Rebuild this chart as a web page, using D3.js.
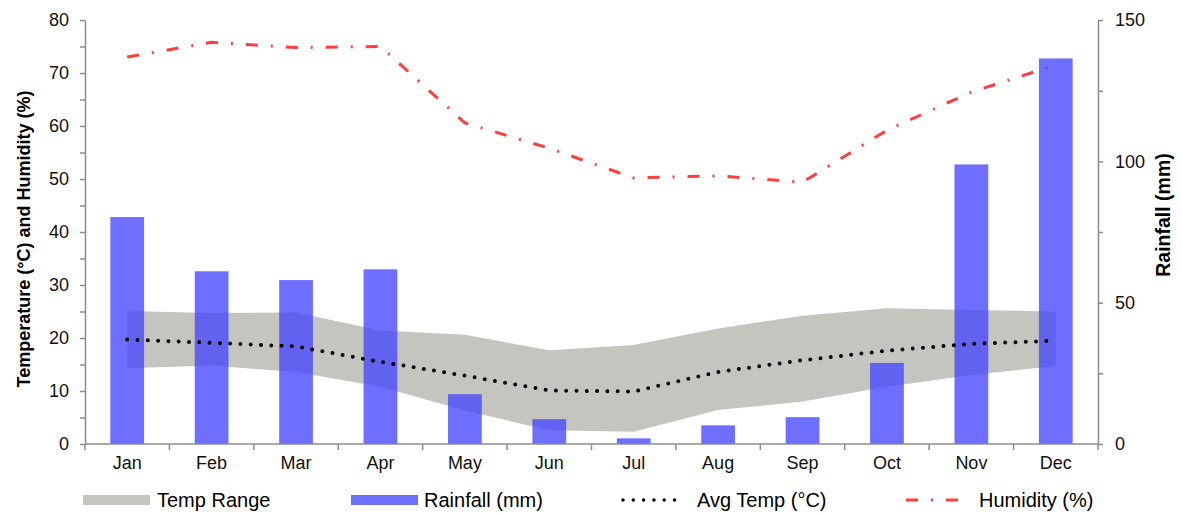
<!DOCTYPE html>
<html>
<head>
<meta charset="utf-8">
<script src="https://cdn.jsdelivr.net/npm/d3@7"></script>
<style>
  body { margin: 0; background: #fff; }
  svg { font-family: "Liberation Sans", Arial, sans-serif; }
  .axis path, .axis line { stroke: #8c8c8c; stroke-width: 1.5; }
  .axis text { font-size: 18px; fill: #111; }
</style>
</head>
<body>
<div id="chart"></div>
<script>
var months = ["Jan", "Feb", "Mar", "Apr", "May", "Jun", "Jul", "Aug", "Sep", "Oct", "Nov", "Dec"];
var tempMin = [14.3, 14.8, 13.6, 10.8, 6.3, 2.6, 2.3, 6.4, 8.0, 10.8, 13.0, 14.7];
var tempMax = [25.1, 24.7, 24.8, 21.4, 20.6, 17.7, 18.7, 21.8, 24.2, 25.6, 25.3, 25.0];
var avgTemp = [19.7, 19.1, 18.4, 15.5, 12.9, 10.1, 9.9, 13.6, 15.8, 17.6, 18.9, 19.5];
var rainfall = [80.3, 61.1, 58.0, 61.8, 17.6, 8.8, 2.0, 6.6, 9.5, 28.7, 98.9, 136.4];
var humidity = [73.0, 75.8, 74.8, 75.0, 60.6, 55.8, 50.2, 50.6, 49.4, 59.2, 66.4, 71.5];
var leftTicks = [0, 10, 20, 30, 40, 50, 60, 70, 80];
var rightTicks = [0, 50, 100, 150];

var width = 1182, height = 514;
var margin = {top: 20, right: 84, bottom: 70, left: 85};
var w = width - margin.left - margin.right,
    h = height - margin.top - margin.bottom;

var svg = d3.select("#chart").append("svg")
  .attr("width", width)
  .attr("height", height);

var g = svg.append("g")
  .attr("transform", "translate(" + margin.left + "," + margin.top + ")");

var x = d3.scaleBand().domain(months).range([0, w]).padding(0);
var yL = d3.scaleLinear().domain([0, 80]).range([h, 0]);
var yR = d3.scaleLinear().domain([0, 150]).range([h, 0]);
var cx = m => x(m) + x.bandwidth() / 2;

var rows = months.map((m, i) => ({
  month: m, lo: tempMin[i], hi: tempMax[i], avg: avgTemp[i], rain: rainfall[i], hum: humidity[i]
}));

// temp range band
var area = d3.area()
  .x(d => cx(d.month))
  .y0(d => yL(d.lo))
  .y1(d => yL(d.hi));

g.append("path")
  .datum(rows)
  .attr("d", area)
  .attr("fill", "#c5c5c0");

// humidity
g.append("path")
  .datum(rows)
  .attr("d", d3.line().x(d => cx(d.month)).y(d => yL(d.hum)))
  .attr("fill", "none")
  .attr("stroke", "#ff3d3d")
  .attr("stroke-width", 3)
  .attr("stroke-dasharray", "12,13,2,13");

// rainfall bars
var bw = x.bandwidth() * 0.4;
g.selectAll(".bar")
  .data(rows)
  .enter().append("rect")
  .attr("class", "bar")
  .attr("x", d => cx(d.month) - bw / 2)
  .attr("y", d => yR(d.rain))
  .attr("width", bw)
  .attr("height", d => h - yR(d.rain))
  .attr("fill", "rgba(70,70,255,0.78)");

// avg temp dotted
g.append("path")
  .datum(rows)
  .attr("d", d3.line().x(d => cx(d.month)).y(d => yL(d.avg)))
  .attr("fill", "none")
  .attr("stroke", "#000")
  .attr("stroke-width", 4)
  .attr("stroke-linecap", "round")
  .attr("stroke-dasharray", "0,10.3");

// axes
var xAxis = d3.axisBottom(x).tickSize(0).tickPadding(12);
var xg = g.append("g").attr("class", "axis")
  .attr("transform", "translate(0," + h + ")")
  .call(xAxis);
xg.select(".domain").attr("d", "M0,0H" + w);

// ticks between categories
xg.selectAll(".sep")
  .data(d3.range(months.length + 1))
  .enter().append("line")
  .attr("class", "sep")
  .attr("x1", i => i * x.bandwidth())
  .attr("x2", i => i * x.bandwidth())
  .attr("y1", 0)
  .attr("y2", 6);

g.append("g").attr("class", "axis")
  .call(d3.axisLeft(yL).tickValues(d3.range(5, 80, 10)).tickSize(5).tickFormat(""))
  .select(".domain").remove();
g.append("g").attr("class", "axis")
  .call(d3.axisLeft(yL).tickValues(leftTicks).tickSizeInner(5).tickSizeOuter(0).tickPadding(11));

g.append("g").attr("class", "axis")
  .attr("transform", "translate(" + w + ",0)")
  .call(d3.axisRight(yR).tickValues([25, 75, 125]).tickSize(5).tickFormat(""))
  .select(".domain").remove();
g.append("g").attr("class", "axis")
  .attr("transform", "translate(" + w + ",0)")
  .call(d3.axisRight(yR).tickValues(rightTicks).tickSizeInner(5).tickSizeOuter(0).tickPadding(12));

// axis titles
svg.append("text")
  .attr("transform", "translate(30,239) rotate(-90)")
  .attr("text-anchor", "middle")
  .style("font-size", "18px")
  .style("font-weight", "bold")
  .text("Temperature (°C) and Humidity (%)");

svg.append("text")
  .attr("transform", "translate(1170,215) rotate(-90)")
  .attr("text-anchor", "middle")
  .style("font-size", "19.5px")
  .style("font-weight", "bold")
  .text("Rainfall (mm)");

// legend
var ly = 500;
var leg = svg.append("g").style("font-size", "20px");

leg.append("rect").attr("x", 83).attr("y", ly - 5).attr("width", 67).attr("height", 10).attr("fill", "#c5c5c0");
leg.append("text").attr("x", 157).attr("y", ly).attr("dy", "0.35em").text("Temp Range");

leg.append("rect").attr("x", 351).attr("y", ly - 5).attr("width", 67).attr("height", 10).attr("fill", "rgba(70,70,255,0.78)");
leg.append("text").attr("x", 424).attr("y", ly).attr("dy", "0.35em").text("Rainfall (mm)");

leg.append("line").attr("x1", 623).attr("x2", 680).attr("y1", ly).attr("y2", ly)
  .attr("stroke", "#000").attr("stroke-width", 3.5).attr("stroke-linecap", "round").attr("stroke-dasharray", "0,10.3");
leg.append("text").attr("x", 697).attr("y", ly).attr("dy", "0.35em").text("Avg Temp (°C)");

leg.append("line").attr("x1", 906).attr("x2", 963).attr("y1", ly).attr("y2", ly)
  .attr("stroke", "#ff3d3d").attr("stroke-width", 3).attr("stroke-dasharray", "12,13,2,13");
leg.append("text").attr("x", 979).attr("y", ly).attr("dy", "0.35em").text("Humidity (%)");
</script>
</body>
</html>
